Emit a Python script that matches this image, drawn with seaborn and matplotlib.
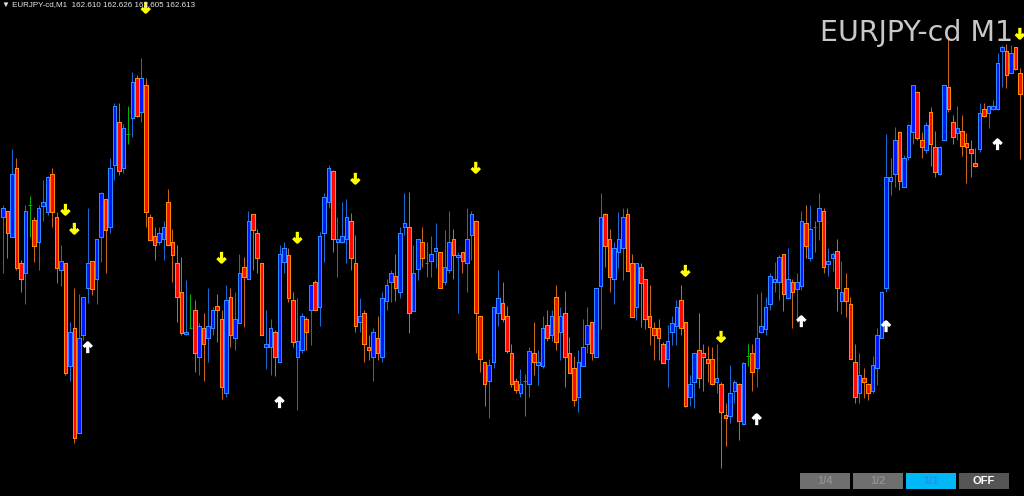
import numpy as np
import pandas as pd
import matplotlib
matplotlib.use("Agg")
import matplotlib.pyplot as plt
from matplotlib.path import Path
from matplotlib.patches import Rectangle
import seaborn as sns

# EURJPY-cd M1 candles, prices in pipettes above 162.000
opens = [483, 489, 463, 532, 437, 427, 495, 480, 458, 494,
         488, 526, 483, 430, 437, 334, 372, 267, 365, 412,
         439, 421, 463, 501, 473, 535, 578, 532, 566, 582,
         622, 588, 615, 483, 464, 458, 461, 498, 458, 437,
         408, 366, 372, 390, 343, 372, 362, 372, 394, 381,
         307, 403, 362, 377, 433, 421, 486, 467, 437, 353,
         353, 368, 338, 438, 445, 400, 343, 350, 381, 390,
         418, 393, 467, 498, 529, 458, 458, 461, 479, 437,
         378, 387, 353, 343, 362, 343, 399, 418, 424, 408,
         473, 473, 389, 431, 458, 437, 439, 449, 448, 418,
         430, 461, 443, 448, 437, 465, 479, 384, 338, 319,
         338, 387, 397, 384, 347, 319, 307, 319, 316, 347,
         335, 334, 375, 365, 403, 368, 387, 347, 332, 303,
         334, 356, 378, 343, 414, 486, 461, 421, 448, 452,
         486, 437, 393, 433, 421, 384, 372, 372, 356, 341,
         368, 374, 400, 378, 303, 318, 350, 347, 341, 341,
         318, 316, 285, 284, 309, 316, 276, 344, 347, 332,
         368, 371, 396, 418, 418, 446, 402, 418, 411, 414,
         477, 442, 473, 479, 489, 436, 442, 449, 399, 412,
         396, 338, 307, 322, 316, 309, 332, 362, 412, 519,
         526, 568, 513, 543, 568, 608, 560, 550, 588, 553,
         526, 560, 613, 578, 567, 569, 557, 551, 537, 551,
         591, 587, 591, 591, 649, 649, 627, 653, 627]
highs = [495, 489, 551, 542, 440, 495, 504, 483, 495, 520,
         524, 532, 488, 455, 437, 378, 412, 406, 403, 492,
         439, 461, 508, 501, 542, 597, 597, 576, 594, 628,
         625, 642, 622, 486, 473, 473, 479, 511, 471, 455,
         443, 420, 406, 400, 377, 387, 412, 393, 406, 390,
         415, 412, 408, 446, 443, 489, 486, 471, 437, 390,
         381, 370, 455, 458, 452, 408, 402, 387, 383, 415,
         420, 468, 507, 535, 530, 483, 498, 501, 487, 465,
         402, 390, 365, 372, 384, 408, 421, 430, 446, 473,
         507, 508, 455, 461, 473, 458, 464, 477, 448, 470,
         489, 471, 448, 448, 492, 489, 480, 384, 338, 341,
         393, 430, 418, 394, 356, 322, 331, 326, 353, 378,
         350, 384, 390, 390, 415, 393, 409, 363, 344, 350,
         381, 393, 378, 412, 507, 487, 471, 458, 488, 492,
         492, 446, 437, 437, 421, 415, 378, 381, 358, 375,
         384, 400, 415, 378, 325, 347, 387, 356, 354, 353,
         356, 318, 297, 335, 320, 317, 338, 356, 356, 406,
         408, 403, 427, 438, 445, 446, 452, 421, 427, 489,
         495, 495, 479, 507, 492, 452, 448, 461, 439, 427,
         403, 356, 347, 332, 317, 344, 372, 409, 566, 542,
         573, 569, 545, 576, 615, 609, 568, 578, 593, 569,
         554, 615, 664, 585, 594, 585, 567, 560, 552, 597,
         597, 595, 600, 647, 655, 656, 655, 653, 632]
lows = [427, 442, 463, 430, 408, 396, 463, 438, 430, 479,
        485, 473, 417, 414, 325, 319, 257, 267, 360, 397,
        405, 396, 438, 427, 467, 520, 525, 527, 556, 563,
        583, 578, 473, 460, 440, 455, 440, 455, 418, 378,
        365, 365, 372, 328, 325, 319, 338, 365, 358, 301,
        303, 353, 350, 377, 373, 421, 430, 427, 365, 331,
        325, 324, 338, 427, 398, 353, 290, 347, 350, 355,
        390, 374, 438, 492, 448, 423, 457, 437, 430, 368,
        368, 338, 340, 319, 340, 338, 390, 398, 399, 402,
        465, 367, 389, 420, 433, 423, 423, 432, 412, 415,
        427, 421, 387, 427, 408, 440, 347, 328, 294, 282,
        332, 374, 378, 347, 313, 307, 303, 284, 303, 325,
        315, 332, 359, 359, 350, 340, 313, 327, 294, 288,
        334, 347, 340, 343, 371, 433, 408, 396, 432, 420,
        429, 383, 380, 373, 371, 355, 340, 340, 337, 313,
        355, 355, 365, 293, 294, 292, 312, 309, 318, 315,
        307, 232, 254, 277, 297, 260, 276, 334, 309, 313,
        367, 365, 390, 408, 400, 389, 401, 372, 378, 410,
        442, 439, 448, 460, 427, 424, 429, 389, 386, 383,
        341, 297, 297, 302, 300, 307, 315, 362, 408, 505,
        513, 510, 513, 540, 556, 560, 542, 547, 534, 523,
        525, 560, 588, 556, 560, 544, 517, 523, 533, 548,
        583, 572, 590, 590, 613, 612, 627, 630, 541]
closes = [492, 467, 526, 432, 421, 489, 495, 454, 492, 498,
          523, 488, 432, 439, 327, 368, 262, 362, 403, 437,
          411, 461, 507, 470, 532, 594, 529, 572, 566, 618,
          584, 622, 488, 460, 455, 467, 473, 455, 445, 403,
          367, 368, 372, 347, 374, 356, 374, 390, 390, 313,
          400, 365, 381, 427, 423, 479, 470, 442, 365, 356,
          372, 343, 446, 452, 402, 358, 359, 384, 368, 415,
          390, 464, 503, 532, 461, 461, 464, 483, 442, 374,
          384, 356, 350, 368, 347, 402, 415, 427, 412, 467,
          477, 387, 427, 461, 442, 437, 446, 452, 412, 433,
          458, 445, 445, 439, 461, 486, 387, 341, 316, 335,
          393, 402, 381, 349, 316, 310, 316, 319, 349, 338,
          338, 372, 362, 384, 358, 384, 343, 327, 300, 338,
          353, 375, 347, 412, 483, 454, 423, 452, 461, 483,
          429, 383, 437, 417, 381, 373, 365, 362, 337, 359,
          377, 393, 372, 294, 316, 347, 322, 343, 337, 316,
          322, 288, 282, 307, 318, 279, 337, 344, 328, 362,
          374, 393, 424, 421, 443, 406, 421, 408, 418, 479,
          454, 471, 473, 492, 433, 439, 446, 412, 408, 399,
          341, 303, 325, 318, 307, 335, 365, 408, 523, 523,
          560, 519, 542, 575, 615, 562, 553, 575, 556, 528,
          553, 615, 591, 563, 572, 554, 553, 547, 534, 587,
          584, 594, 594, 637, 653, 625, 647, 631, 606]

# signal arrows: candle index and level (pipettes above 162.000)
sell_idx = [14, 16, 32, 49, 66, 79, 106, 153, 161, 228]
sell_lvl = [491, 472, 693, 443, 463, 522, 533, 430, 364, 667]
buy_idx = [19, 62, 169, 179, 198, 223]
buy_lvl = [352, 297, 280, 378, 373, 555]

header = "\u25bc EURJPY-cd,M1  162.610 162.626 162.605 162.613"
title = "EURJPY-cd M1"
buttons = ["1/4", "1/2", "1/1", "OFF"]

base = 162.0
df = pd.DataFrame({"o": opens, "h": highs, "l": lows, "c": closes}) / 1000 + base
x = np.arange(len(df))
up = (df.c > df.o).values
dn = (df.c < df.o).values
flat = (df.c == df.o).values

sns.set_theme(style="dark", rc={"axes.facecolor": "black", "figure.facecolor": "black"})

fig = plt.figure(figsize=(10.24, 4.96), dpi=100)
ax = fig.add_axes([0, 0, 1, 1])
ax.set_facecolor("black")

# wicks underneath, bodies on top
wick_col = np.where(up, "#1a6ad6", np.where(dn, "#c8641c", "#00b400"))
ax.vlines(x, df.l, df.h, colors=wick_col, linewidth=0.72, zorder=2)
ax.bar(x[up], (df.c - df.o)[up], bottom=df.o[up], width=0.8, zorder=3,
       color="#0018ff", edgecolor="#2a8cff", linewidth=0.6, antialiased=False)
ax.bar(x[dn], (df.o - df.c)[dn], bottom=df.c[dn], width=0.8, zorder=3,
       color="#ff0a00", edgecolor="#ff8c00", linewidth=0.6, antialiased=False)
ax.hlines(df.o[flat], x[flat] - 0.4, x[flat] + 0.4, colors="#00b400", linewidth=0.72,
          zorder=3)

# arrow markers
M, L = Path.MOVETO, Path.LINETO
down_arrow = Path([(0, 1), (0, -1), (-0.8, -0.2), (0, -1), (0.8, -0.2)], [M, L, M, L, L])
up_arrow = Path([(0, -1), (0, 1), (-0.8, 0.2), (0, 1), (0.8, 0.2)], [M, L, M, L, L])
sns.scatterplot(x=sell_idx, y=np.array(sell_lvl) / 1000 + base, marker=down_arrow, s=55,
                color="#ffff00", facecolor="none", edgecolor="#ffff00", linewidth=2.3,
                zorder=4, ax=ax)
sns.scatterplot(x=buy_idx, y=np.array(buy_lvl) / 1000 + base, marker=up_arrow, s=55,
                color="white", facecolor="none", edgecolor="white", linewidth=2.3,
                zorder=4, ax=ax)

ax.set_xlim(-0.673, 228.93)
ax.set_ylim(162.204, 162.700)
ax.axis("off")

W, H = 1024, 496
fig.text(2 / W, 1 - 1 / H, header, va="top", ha="left", fontsize=5.8,
         color="#e6e6e6", family=["Liberation Sans", "DejaVu Sans"])
fig.text(1013 / W, 1 - 41 / H, title, va="baseline", ha="right", fontsize=20.5,
         color="#c8c8c8", family="DejaVu Sans")

box_x = [800, 853, 906, 959]
box_fc = ["#6e6e6e", "#6e6e6e", "#00b8f5", "#555555"]
box_tc = ["#8e8e8e", "#8e8e8e", "#2c8cf0", "white"]
for bx, lab, fc, tc in zip(box_x, buttons, box_fc, box_tc):
    fig.add_artist(Rectangle((bx / W, 1 - 489 / H), 50 / W, 16 / H,
                             transform=fig.transFigure, facecolor=fc, edgecolor="none"))
    fig.text((bx + 25) / W, 1 - 481 / H, lab, ha="center", va="center", fontsize=8,
             fontweight="bold", color=tc, family="Liberation Sans")

fig.savefig("out.png", dpi=100, facecolor="black")
